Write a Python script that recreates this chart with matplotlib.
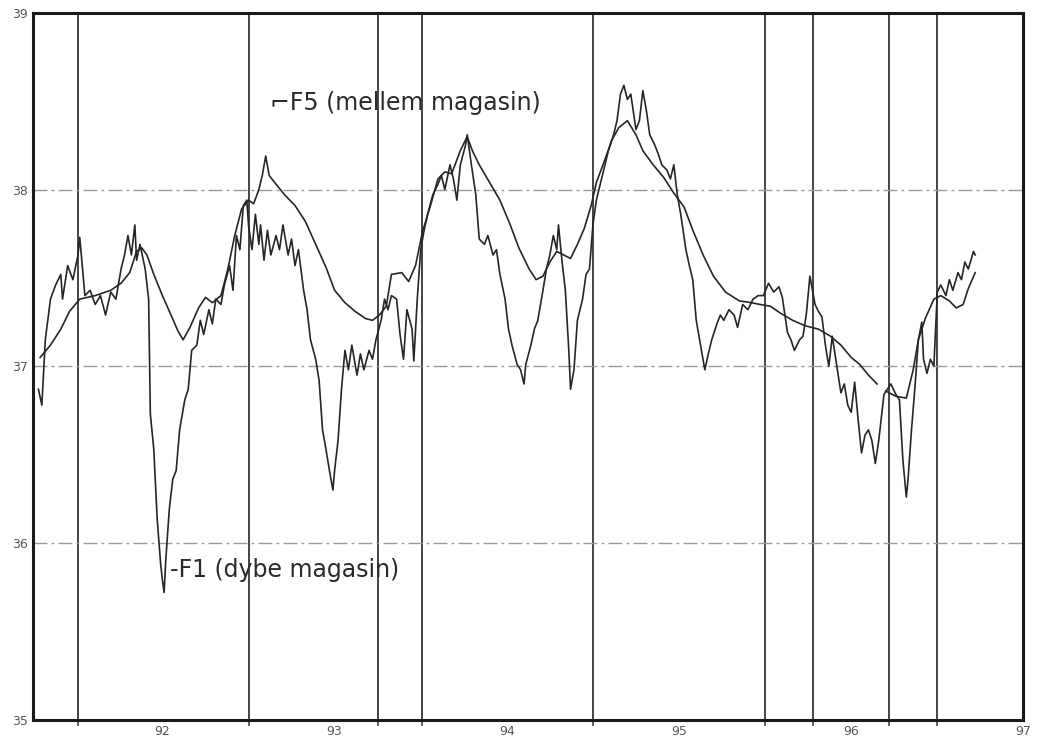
import numpy as np
import matplotlib
matplotlib.use("Agg")
import matplotlib.pyplot as plt

# F1 (dybe magasin) - noisy deep aquifer series
f1_year = [91.28, 91.30, 91.32, 91.35, 91.38, 91.41, 91.42, 91.45, 91.48, 91.51,
           91.52, 91.55, 91.58, 91.61, 91.64, 91.67, 91.70, 91.73, 91.76, 91.78,
           91.80, 91.82, 91.84, 91.85, 91.87, 91.90, 91.92, 91.93, 91.95, 91.97,
           91.99, 92.00, 92.01, 92.02, 92.04, 92.06, 92.08, 92.10, 92.13, 92.15,
           92.17, 92.20, 92.22, 92.24, 92.27, 92.29, 92.31, 92.34, 92.36, 92.39,
           92.41, 92.43, 92.45, 92.47, 92.49, 92.50, 92.52, 92.54, 92.56, 92.57,
           92.59, 92.61, 92.63, 92.66, 92.68, 92.70, 92.73, 92.75, 92.77, 92.79,
           92.82, 92.84, 92.86, 92.89, 92.91, 92.93, 92.95, 92.97, 92.99, 93.00,
           93.02, 93.04, 93.06, 93.08, 93.10, 93.13, 93.15, 93.17, 93.20, 93.22,
           93.24, 93.27, 93.29, 93.31, 93.33, 93.36, 93.38, 93.40, 93.42, 93.45,
           93.46, 93.48, 93.50, 93.52, 93.54, 93.57, 93.60, 93.62, 93.64, 93.67,
           93.69, 93.71, 93.73, 93.76, 93.77, 93.79, 93.82, 93.84, 93.87, 93.89,
           93.92, 93.94, 93.96, 93.99, 94.01, 94.03, 94.06, 94.08, 94.10, 94.11,
           94.14, 94.16, 94.18, 94.21, 94.23, 94.25, 94.27, 94.29, 94.30, 94.32,
           94.34, 94.36, 94.37, 94.39, 94.41, 94.44, 94.46, 94.48, 94.50, 94.52,
           94.55, 94.57, 94.59, 94.62, 94.64, 94.66, 94.68, 94.70, 94.72, 94.75,
           94.77, 94.79, 94.81, 94.83, 94.86, 94.88, 94.90, 94.93, 94.95, 94.97,
           94.99, 95.01, 95.04, 95.06, 95.08, 95.10, 95.13, 95.15, 95.17, 95.19,
           95.22, 95.24, 95.26, 95.29, 95.32, 95.34, 95.37, 95.40, 95.43, 95.46,
           95.49, 95.52, 95.55, 95.58, 95.60, 95.63, 95.65, 95.67, 95.70, 95.72,
           95.74, 95.76, 95.79, 95.81, 95.83, 95.85, 95.87, 95.89, 95.92, 95.94,
           95.96, 95.98, 96.00, 96.02, 96.04, 96.06, 96.08, 96.10, 96.12, 96.14,
           96.16, 96.18, 96.19, 96.21, 96.23, 96.26, 96.28, 96.30, 96.32, 96.33,
           96.35, 96.37, 96.39, 96.41, 96.42, 96.44, 96.46, 96.48, 96.50, 96.52,
           96.55, 96.57, 96.59, 96.62, 96.64, 96.66, 96.68, 96.71, 96.72]
f1_level = [36.87, 36.78, 37.15, 37.38, 37.46, 37.52, 37.38, 37.57, 37.49, 37.63,
            37.73, 37.40, 37.43, 37.35, 37.40, 37.29, 37.42, 37.38, 37.55, 37.63,
            37.74, 37.63, 37.80, 37.60, 37.69, 37.55, 37.38, 36.73, 36.53, 36.13,
            35.88, 35.79, 35.72, 35.91, 36.19, 36.36, 36.41, 36.64, 36.81, 36.87,
            37.09, 37.12, 37.26, 37.18, 37.32, 37.24, 37.38, 37.35, 37.46, 37.57,
            37.43, 37.74, 37.66, 37.91, 37.94, 37.80, 37.66, 37.86, 37.69, 37.80,
            37.60, 37.77, 37.63, 37.74, 37.66, 37.80, 37.63, 37.72, 37.57, 37.66,
            37.43, 37.32, 37.15, 37.04, 36.92, 36.64, 36.53, 36.41, 36.30, 36.41,
            36.58, 36.87, 37.09, 36.98, 37.12, 36.95, 37.07, 36.98, 37.09, 37.04,
            37.15, 37.26, 37.38, 37.32, 37.40, 37.38, 37.18, 37.04, 37.32, 37.21,
            37.03, 37.38, 37.66, 37.77, 37.86, 37.97, 38.03, 38.08, 38.00, 38.14,
            38.06, 37.94, 38.14, 38.25, 38.31, 38.17, 37.97, 37.72, 37.69, 37.74,
            37.63, 37.66, 37.52, 37.38, 37.21, 37.12, 37.01, 36.98, 36.90, 37.01,
            37.12, 37.21, 37.26, 37.43, 37.55, 37.63, 37.74, 37.66, 37.80, 37.60,
            37.43, 37.09, 36.87, 36.98, 37.26, 37.38, 37.52, 37.55, 37.80, 37.94,
            38.06, 38.14, 38.22, 38.31, 38.39, 38.54, 38.59, 38.51, 38.54, 38.34,
            38.39, 38.56, 38.45, 38.31, 38.25, 38.20, 38.14, 38.11, 38.06, 38.14,
            37.97, 37.86, 37.66, 37.57, 37.49, 37.26, 37.09, 36.98, 37.07, 37.15,
            37.24, 37.29, 37.26, 37.32, 37.29, 37.22, 37.35, 37.32, 37.38, 37.40,
            37.40, 37.47, 37.42, 37.45, 37.39, 37.19, 37.15, 37.09, 37.15, 37.17,
            37.30, 37.51, 37.35, 37.31, 37.28, 37.12, 37.00, 37.17, 36.98, 36.85,
            36.90, 36.78, 36.74, 36.91, 36.70, 36.51, 36.61, 36.64, 36.58, 36.45,
            36.58, 36.75, 36.84, 36.87, 36.90, 36.84, 36.81, 36.47, 36.26, 36.36,
            36.64, 36.88, 37.15, 37.25, 37.04, 36.96, 37.04, 37.00, 37.42, 37.46,
            37.40, 37.49, 37.43, 37.53, 37.49, 37.59, 37.55, 37.65, 37.63]

# F5 (mellem magasin) - smoother series, gap near 96.2
f5_year = [91.29, 91.35, 91.41, 91.46, 91.52, 91.61, 91.70, 91.76, 91.81, 91.85,
           91.88, 91.91, 91.95, 92.00, 92.05, 92.09, 92.12, 92.16, 92.21, 92.25,
           92.29, 92.34, 92.38, 92.42, 92.46, 92.50, 92.53, 92.56, 92.58, 92.60,
           92.62, 92.66, 92.71, 92.77, 92.83, 92.89, 92.95, 93.00, 93.06, 93.12,
           93.18, 93.22, 93.26, 93.30, 93.33, 93.39, 93.43, 93.47, 93.51, 93.56,
           93.60, 93.64, 93.68, 93.73, 93.77, 93.80, 93.84, 93.90, 93.96, 94.02,
           94.07, 94.13, 94.17, 94.21, 94.25, 94.29, 94.33, 94.37, 94.41, 94.45,
           94.49, 94.52, 94.57, 94.61, 94.65, 94.70, 94.75, 94.79, 94.85, 94.91,
           94.97, 95.03, 95.08, 95.14, 95.20, 95.27, 95.35, 95.42, 95.47, 95.53,
           95.59, 95.66, 95.73, 95.81, 95.88, 95.94, 96.00, 96.05, 96.10, 96.15,
           96.175,
           96.20, 96.26, 96.32, 96.36, 96.39, 96.43, 96.48, 96.52, 96.57, 96.61,
           96.65, 96.68, 96.72]
f5_level = [37.05, 37.12, 37.21, 37.31, 37.38, 37.40, 37.43, 37.47, 37.53, 37.65,
            37.67, 37.63, 37.52, 37.40, 37.29, 37.20, 37.15, 37.22, 37.33, 37.39,
            37.36, 37.40, 37.55, 37.74, 37.89, 37.94, 37.92, 38.00, 38.08, 38.19,
            38.08, 38.03, 37.97, 37.91, 37.82, 37.69, 37.56, 37.43, 37.36, 37.31,
            37.27, 37.26, 37.29, 37.34, 37.52, 37.53, 37.48, 37.57, 37.76, 37.92,
            38.06, 38.10, 38.09, 38.22, 38.30, 38.22, 38.14, 38.04, 37.94, 37.80,
            37.67, 37.55, 37.49, 37.51, 37.59, 37.65, 37.63, 37.61, 37.69, 37.78,
            37.91, 38.04, 38.17, 38.28, 38.35, 38.39, 38.31, 38.22, 38.14, 38.07,
            37.98, 37.90, 37.77, 37.63, 37.51, 37.42, 37.37, 37.36, 37.35, 37.34,
            37.30, 37.26, 37.23, 37.21, 37.17, 37.12, 37.05, 37.01, 36.95, 36.90,
            np.nan,
            36.86, 36.83, 36.82, 36.98, 37.15, 37.27, 37.38, 37.40, 37.37, 37.33,
            37.35, 37.44, 37.53]

year_lines = [91.51, 92.50, 93.25, 93.51, 94.50, 95.50, 95.78, 96.22, 96.50]
grid_levels = [36, 37, 38]
x_ticks = [92, 93, 94, 95, 96, 97]
y_ticks = [35, 36, 37, 38, 39]

fig = plt.figure(figsize=(10.39, 7.56), dpi=100)
ax = fig.add_axes([0.032, 0.048, 0.953, 0.935])

ink = '#262626'
for xv in year_lines:
    ax.axvline(xv, color='#444444', lw=1.4, zorder=1)
for yv in grid_levels:
    ax.axhline(yv, color='#9a9a9a', lw=1.0, ls=(0, (10, 3, 2, 3)), zorder=1)

ax.plot(f1_year, f1_level, color=ink, lw=1.2, zorder=3)
ax.plot(f5_year, f5_level, color=ink, lw=1.2, zorder=3)

ax.set_xlim(91.25, 97.0)
ax.set_ylim(35, 39)

ax.set_xticks(x_ticks)
ax.set_xticklabels([str(t) for t in x_ticks])
ax.set_xticks(year_lines, minor=True)
ax.tick_params(axis='x', which='major', length=0, pad=4, labelsize=9, labelcolor='#555555')
ax.tick_params(axis='x', which='minor', length=4, width=1.2, color='#444444', direction='out')
ax.set_yticks(y_ticks)
ax.set_yticklabels([str(t) for t in y_ticks])
ax.tick_params(axis='y', length=0, pad=4, labelsize=9, labelcolor='#555555')

for side in ['left', 'bottom', 'top', 'right']:
    ax.spines[side].set_linewidth(2.2)
    ax.spines[side].set_color('#1a1a1a')

ax.text(92.625, 38.49, '\u2310F5 (mellem magasin)', fontsize=17, color='#2a2a2a',
        family='DejaVu Sans', va='center', ha='left')
ax.text(92.045, 35.85, '-F1 (dybe magasin)', fontsize=17, color='#2a2a2a',
        family='DejaVu Sans', va='center', ha='left')

fig.savefig('out.png', dpi=100)
